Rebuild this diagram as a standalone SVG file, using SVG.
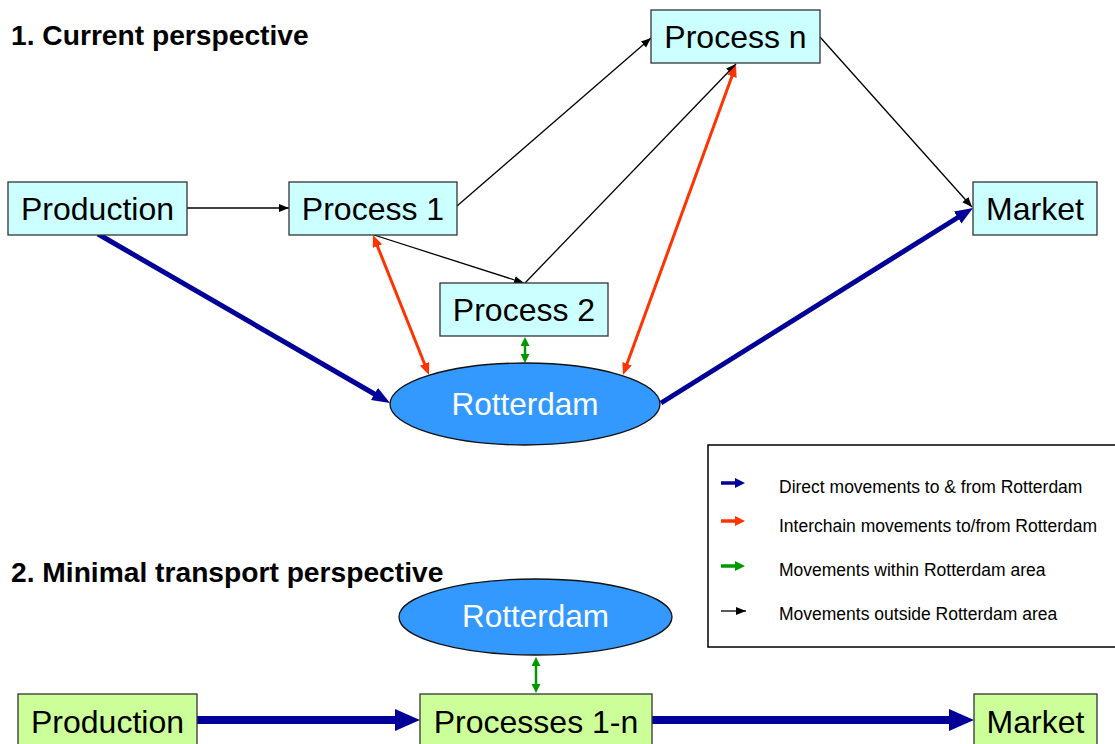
<svg xmlns="http://www.w3.org/2000/svg" width="1115" height="744" viewBox="0 0 1115 744">
<style>
text{font-family:"Liberation Sans",Arial,sans-serif}
.node{stroke:#333;stroke-width:1.3}
.cyan{fill:#CCFFFF}
.lime{fill:#CCFF99}
.ell{fill:#3399FF;stroke:#111;stroke-width:1.3}
.lbl{font-size:32px;fill:#000;text-anchor:middle}
.wl{font-size:31.5px;fill:#fff;text-anchor:middle}
.title{font-size:28.2px;font-weight:bold;fill:#000}
.leg{font-size:17.5px;fill:#000}
.blk{stroke:#000;stroke-width:1.3;fill:none}
.blu{stroke:#000099;stroke-width:5;fill:none}
.red{stroke:#FF3300;stroke-width:3;fill:none}
.grn{stroke:#009900;stroke-width:2.5;fill:none}
.blu2{stroke:#000099;stroke-width:8;fill:none}
</style>
<defs>
<marker id="mb" markerUnits="userSpaceOnUse" markerWidth="12" markerHeight="10" refX="10" refY="4" orient="auto"><path d="M0,0 L10,4 L0,8 z" fill="#000"/></marker>
<marker id="mblu" markerUnits="userSpaceOnUse" markerWidth="20" markerHeight="16" refX="2" refY="7" orient="auto"><path d="M0,0 L18,7 L0,14 z" fill="#000099"/></marker>
<marker id="mred" markerUnits="userSpaceOnUse" markerWidth="14" markerHeight="12" refX="2" refY="5" orient="auto-start-reverse"><path d="M0,0 L12,5 L0,10 z" fill="#FF3300"/></marker>
<marker id="mgrn" markerUnits="userSpaceOnUse" markerWidth="12" markerHeight="11" refX="2" refY="4.5" orient="auto-start-reverse"><path d="M0,0 L9,4.5 L0,9 z" fill="#009900"/></marker>
<marker id="mblu2" markerUnits="userSpaceOnUse" markerWidth="28" markerHeight="24" refX="2" refY="11" orient="auto"><path d="M0,0 L25,11 L0,22 z" fill="#000099"/></marker>
<marker id="lblu" markerUnits="userSpaceOnUse" markerWidth="12" markerHeight="12" refX="2" refY="5" orient="auto"><path d="M0,0 L10,5 L0,10 z" fill="#000099"/></marker>
<marker id="lred" markerUnits="userSpaceOnUse" markerWidth="12" markerHeight="12" refX="2" refY="5" orient="auto"><path d="M0,0 L10,5 L0,10 z" fill="#FF3300"/></marker>
<marker id="lgrn" markerUnits="userSpaceOnUse" markerWidth="12" markerHeight="12" refX="2" refY="5" orient="auto"><path d="M0,0 L10,5 L0,10 z" fill="#009900"/></marker>
</defs>
<rect width="1115" height="744" fill="#fff"/>

<text class="title" x="11" y="45">1. Current perspective</text>
<text class="title" x="11" y="582">2. Minimal transport perspective</text>

<g id="legend">
<rect x="708" y="445" width="420" height="202" fill="#fff" stroke="#000" stroke-width="1.5"/>
<line x1="721" y1="483" x2="737" y2="483" stroke="#000099" stroke-width="3.5" marker-end="url(#lblu)"/>
<line x1="721" y1="521" x2="737" y2="521" stroke="#FF3300" stroke-width="3.5" marker-end="url(#lred)"/>
<line x1="721" y1="566" x2="737" y2="566" stroke="#009900" stroke-width="3.5" marker-end="url(#lgrn)"/>
<line x1="721" y1="611" x2="746" y2="611" class="blk" stroke-width="1.6" marker-end="url(#mb)"/>
<text class="leg" x="779" y="493">Direct movements to &amp; from Rotterdam</text>
<text class="leg" x="779" y="532">Interchain movements to/from Rotterdam</text>
<text class="leg" x="779" y="576">Movements within Rotterdam area</text>
<text class="leg" x="779" y="620">Movements outside Rotterdam area</text>
</g>

<g id="connectors">
<line class="blk" x1="187" y1="208" x2="289" y2="208" marker-end="url(#mb)"/>
<line class="blk" x1="457" y1="206" x2="651" y2="38" marker-end="url(#mb)"/>
<line class="blk" x1="374" y1="235" x2="524" y2="283" marker-end="url(#mb)"/>
<line class="blk" x1="525" y1="283" x2="736" y2="64" marker-end="url(#mb)"/>
<line class="blk" x1="820" y1="37" x2="972" y2="207" marker-end="url(#mb)"/>
<line class="blu" x1="98" y1="234" x2="376.2" y2="395" marker-end="url(#mblu)"/>
<line class="blu" x1="661" y1="403" x2="959.4" y2="216.5" marker-end="url(#mblu)"/>
<line class="red" x1="376.7" y1="244.3" x2="425.3" y2="365.7" marker-start="url(#mred)" marker-end="url(#mred)"/>
<line class="red" x1="626.4" y1="365.6" x2="732.6" y2="74.4" marker-start="url(#mred)" marker-end="url(#mred)"/>
<line class="grn" x1="525" y1="344" x2="525" y2="356" marker-start="url(#mgrn)" marker-end="url(#mgrn)"/>
<line class="grn" x1="536" y1="664" x2="536" y2="686" marker-start="url(#mgrn)" marker-end="url(#mgrn)"/>
<line class="blu2" x1="197" y1="720" x2="397" y2="720" marker-end="url(#mblu2)"/>
<line class="blu2" x1="652" y1="720" x2="951" y2="720" marker-end="url(#mblu2)"/>
</g>

<g id="production1"><rect class="node cyan" x="8" y="182" width="179" height="53"/><text class="lbl" x="97.5" y="220">Production</text></g>
<g id="process1"><rect class="node cyan" x="289" y="182" width="168" height="53"/><text class="lbl" x="373" y="220">Process 1</text></g>
<g id="processn"><rect class="node cyan" x="651" y="10" width="169" height="53"/><text class="lbl" x="735.5" y="48">Process n</text></g>
<g id="market1"><rect class="node cyan" x="973" y="182" width="124" height="53"/><text class="lbl" x="1035" y="220">Market</text></g>
<g id="process2"><rect class="node cyan" x="440" y="283" width="168" height="53"/><text class="lbl" x="524" y="321">Process 2</text></g>
<g id="rotterdam1"><ellipse class="ell" cx="525" cy="404" rx="135" ry="41"/><text class="wl" x="525" y="415">Rotterdam</text></g>

<g id="rotterdam2"><ellipse class="ell" cx="535.5" cy="617" rx="136.5" ry="38"/><text class="wl" x="535.5" y="627">Rotterdam</text></g>
<g id="production2"><rect class="node lime" x="18" y="694" width="179" height="60"/><text class="lbl" x="107.5" y="733">Production</text></g>
<g id="processes"><rect class="node lime" x="420" y="694" width="232" height="60"/><text class="lbl" x="536" y="733">Processes 1-n</text></g>
<g id="market2"><rect class="node lime" x="974" y="694" width="123" height="60"/><text class="lbl" x="1035.5" y="733">Market</text></g>
</svg>
